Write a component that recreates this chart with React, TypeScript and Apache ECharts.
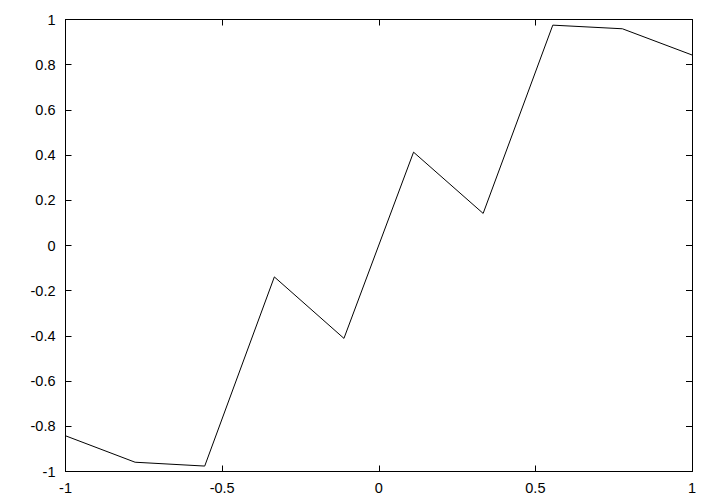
import React, { useEffect, useRef } from "react";
import * as echarts from "echarts";

const xValues = [-1, -0.7778, -0.5556, -0.3333, -0.1111, 0.1111, 0.3333, 0.5556, 0.7778, 1];
const yValues = [-0.842, -0.959, -0.976, -0.139, -0.411, 0.413, 0.142, 0.975, 0.959, 0.843];
const xRange = [-1, 1];
const yRange = [-1, 1];
const xStep = 0.5;
const yStep = 0.2;

const fmt = (v: number) => String(parseFloat(v.toFixed(2)));

export default function App() {
  const ref = useRef<HTMLDivElement>(null);
  useEffect(() => {
    if (!ref.current) return;
    const chart = echarts.init(ref.current, null, { renderer: "svg" });
    const font = { color: "#000", fontFamily: "Liberation Sans, Arial, sans-serif", fontSize: 14.5 };
    const tick = { show: true, inside: true, length: 6, lineStyle: { color: "#000", width: 1 } };
    const baseX = {
      type: "value" as const,
      min: xRange[0],
      max: xRange[1],
      interval: xStep,
      splitLine: { show: false },
      axisLine: { show: true, onZero: false, lineStyle: { color: "#000", width: 1 } },
      axisTick: tick,
    };
    const baseY = {
      type: "value" as const,
      min: yRange[0],
      max: yRange[1],
      interval: yStep,
      splitLine: { show: false },
      axisLine: { show: true, onZero: false, lineStyle: { color: "#000", width: 1 } },
      axisTick: tick,
    };
    chart.setOption({
      animation: false,
      backgroundColor: "#fff",
      grid: { left: 65.5, right: 28, top: 19.5, bottom: 32.5, containLabel: false },
      xAxis: [
        { ...baseX, position: "bottom", axisLabel: { ...font, margin: 9, formatter: fmt } },
        { ...baseX, position: "top", axisLabel: { show: false } },
      ],
      yAxis: [
        { ...baseY, position: "left", axisLabel: { ...font, margin: 10, formatter: fmt } },
        { ...baseY, position: "right", axisLabel: { show: false } },
      ],
      series: [
        {
          type: "line",
          data: xValues.map((x, i) => [x, yValues[i]]),
          showSymbol: false,
          symbol: "none",
          lineStyle: { color: "#000", width: 1 },
          xAxisIndex: 0,
          yAxisIndex: 0,
        },
      ],
    });
    return () => chart.dispose();
  }, []);
  return (
    <div
      ref={ref}
      style={{ position: "absolute", left: 0, top: 0, width: 720, height: 504 }}
    />
  );
}
